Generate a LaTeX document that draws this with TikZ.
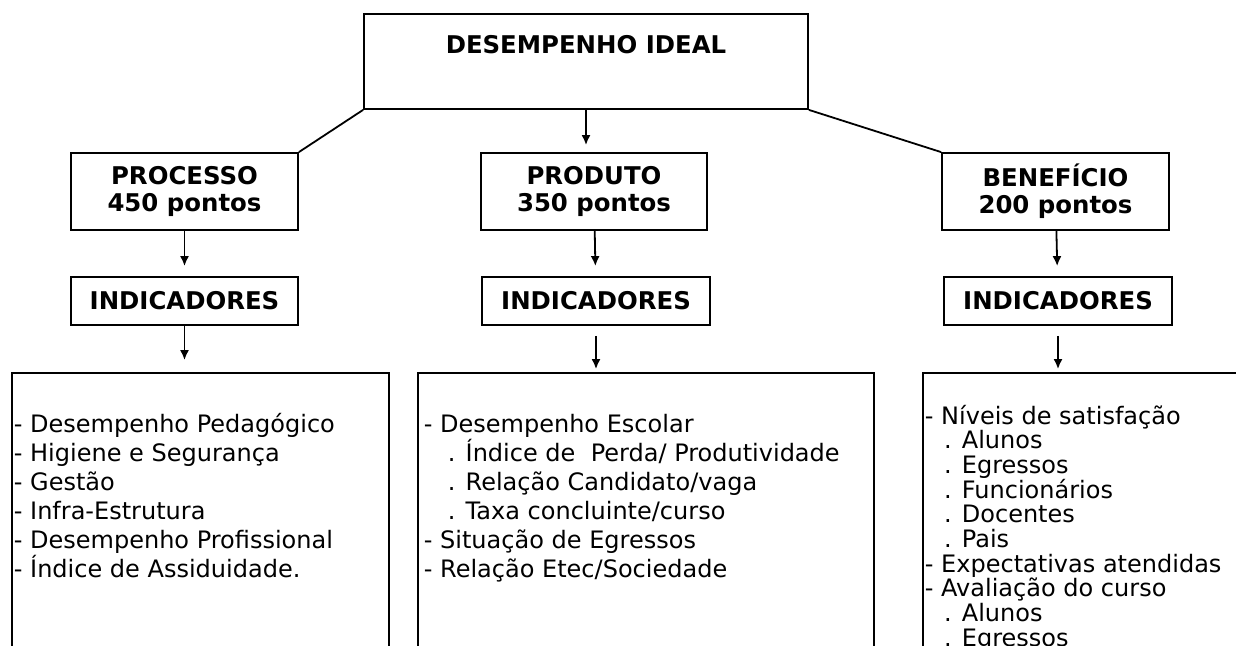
\documentclass[tikz,border=0pt]{standalone}
\usepackage{fontspec}
\setmainfont{DejaVu Sans}
\usetikzlibrary{arrows.meta}
\begin{document}
\begin{tikzpicture}[x=0.5pt, y=-0.5pt, line width=0.9pt,
  box/.style={draw, rectangle, inner sep=0pt},
  head/.style={font=\fontsize{12.2}{13.5}\selectfont\bfseries, align=center},
  list/.style={font=\fontsize{12}{14.5}\selectfont, align=left, inner sep=0pt, anchor=north west},
  arr/.style={-{Latex[length=5pt,width=4.5pt]}}]
\useasboundingbox (0,0) rectangle (1236,646);
\clip (0,0) rectangle (1236,646);
\node[box, minimum width=222pt, minimum height=47.5pt] (DI) at (586,61.5) {};
\node[head] (T) at (586,45) {DESEMPENHO IDEAL};
\node[box, head, minimum width=113.5pt, minimum height=38.5pt] (P) at (184.5,191.5) {PROCESSO\\450 pontos};
\node[box, head, minimum width=113pt, minimum height=38.5pt] (PR) at (594,191.5) {PRODUTO\\350 pontos};
\node[box, head, minimum width=113.5pt, minimum height=38.5pt] (B) at (1055.5,191.5) {BENEFÍCIO\\200 pontos};
\node[box, head, minimum width=113.5pt, minimum height=24pt] (IP) at (184.5,301) {INDICADORES};
\node[box, head, minimum width=114pt, minimum height=24pt] (IPR) at (596,301) {INDICADORES};
\node[box, head, minimum width=114pt, minimum height=24pt] (IB) at (1058,301) {INDICADORES};
\node[box, minimum width=188.5pt, minimum height=163.5pt] (LP) at (200.5,536.5) {};
\node[box, minimum width=228pt, minimum height=163.5pt] (LPR) at (646,536.5) {};
\node[box, minimum width=188.5pt, minimum height=163.5pt] (LB) at (1111.5,536.5) {};
\node[list] (TP) at (13,412) {- Desempenho Pedagógico\\- Higiene e Segurança\\- Gestão\\- Infra-Estrutura\\- Desempenho Profissional\\- Índice de Assiduidade.};
\node[list] (TPR) at (423,413) {- Desempenho Escolar\\\hspace*{1em}. Índice de\ \ Perda/ Produtividade\\\hspace*{1em}. Relação Candidato/vaga\\\hspace*{1em}. Taxa concluinte/curso\\- Situação de Egressos\\- Relação Etec/Sociedade};
\node[list, font=\fontsize{12}{12.35}\selectfont] (TB) at (924,404) {- Níveis de satisfação\\\hspace*{0.8em}. Alunos\\\hspace*{0.8em}. Egressos\\\hspace*{0.8em}. Funcionários\\\hspace*{0.8em}. Docentes\\\hspace*{0.8em}. Pais\\- Expectativas atendidas\\- Avaliação do curso\\\hspace*{0.8em}. Alunos\\\hspace*{0.8em}. Egressos};
\draw (DI.south west) -- (P.north east);
\draw (DI.south east) -- (B.north west);
\draw [arr, shorten >=3.5pt] (DI.south) -- (DI.south |- PR.north);
\draw [arr, shorten >=5pt] (P) -- (IP);
\draw [arr, shorten >=5pt] (PR) -- (IPR);
\draw [arr, shorten >=5pt] (B) -- (IB);
\draw [arr, shorten >=6pt] (IP) -- (IP |- LP.north);
\draw [arr, shorten <=5pt, shorten >=1.5pt] (IPR) -- (IPR |- LPR.north);
\draw [arr, shorten <=5pt, shorten >=1.5pt] (IB) -- (IB |- LB.north);
\end{tikzpicture}
\end{document}
